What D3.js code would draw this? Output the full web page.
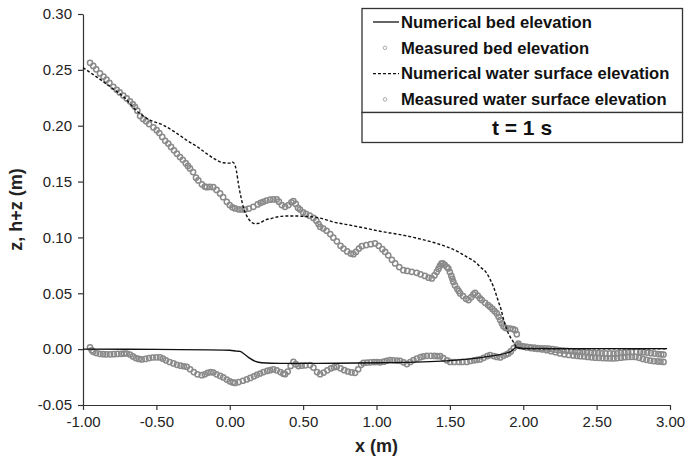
<!DOCTYPE html>
<html>
<head>
<meta charset="utf-8">
<script src="https://cdn.jsdelivr.net/npm/d3@7"></script>
<style>
  body { margin: 0; background: #fff; }
  svg { font-family: "Liberation Sans", Arial, sans-serif; }
  .tick text { font-size: 15px; fill: #222; }
</style>
</head>
<body>
<svg id="chart" width="689" height="465"></svg>
<script>
// x ticks and y ticks (m)
const xTicks = [-1, -0.5, 0, 0.5, 1, 1.5, 2, 2.5, 3];
const yTicks = [-0.05, 0, 0.05, 0.1, 0.15, 0.2, 0.25, 0.3];

// Numerical bed elevation [x, z]
const numBed = [[-1.0,0.0],[-0.5,-0.0002],[0.0,-0.001],[0.048,-0.0018],[0.07,-0.002],[0.1,-0.0045],[0.138,-0.0083],
  [0.175,-0.011],[0.218,-0.0122],[0.343,-0.0128],[0.6,-0.0127],[1.025,-0.0122],[1.478,-0.0105],[1.774,-0.0063],
  [1.911,-0.0024],[1.956,0.0015],[2.0,0.0006],[2.5,0.0005],[2.98,0.0005]];

// Numerical water surface elevation [x, h+z]
const numWater = [[-1.0,0.252],[-0.9,0.243],[-0.8,0.2335],[-0.725,0.226],[-0.623,0.212],[-0.55,0.2055],[-0.453,0.2005],
  [-0.37,0.194],[-0.293,0.187],[-0.22,0.181],[-0.157,0.175],[-0.1,0.170],[-0.044,0.1668],[0.0,0.1665],[0.014,0.1677],
  [0.029,0.1665],[0.045,0.160],[0.059,0.148],[0.075,0.137],[0.093,0.127],[0.115,0.1195],[0.138,0.115],[0.165,0.1125],
  [0.19,0.1125],[0.207,0.113],[0.24,0.1155],[0.286,0.117],[0.33,0.1185],[0.389,0.1192],[0.45,0.1192],[0.51,0.1188],
  [0.57,0.1184],[0.64,0.1165],[0.706,0.1138],[0.798,0.1115],[0.934,0.108],[1.025,0.1055],[1.161,0.1025],[1.252,0.1],
  [1.388,0.0955],[1.479,0.0916],[1.57,0.0862],[1.615,0.0826],[1.684,0.0767],[1.706,0.0737],[1.752,0.0678],[1.774,0.0625],
  [1.797,0.0558],[1.815,0.049],[1.831,0.0425],[1.85,0.035],[1.865,0.027],[1.877,0.022],[1.899,0.014],[1.911,0.011],
  [1.93,0.007],[1.945,0.0036],[1.96,0.001],[2.0,0.0003],[2.5,0.0003],[2.98,0.0003]];

// Measured water surface elevation [x, h+z]
const measWater = [[-0.952,0.2563],[-0.93,0.2535],[-0.91,0.2505],[-0.884,0.2468],[-0.86,0.244],[-0.84,0.2412],[-0.82,0.2383],
  [-0.793,0.2348],[-0.77,0.2322],[-0.75,0.2298],[-0.725,0.227],[-0.702,0.2244],[-0.68,0.2218],[-0.66,0.2192],[-0.646,0.2169],
  [-0.63,0.2135],[-0.611,0.2086],[-0.59,0.206],[-0.57,0.204],[-0.55,0.2015],[-0.52,0.1985],[-0.498,0.196],[-0.48,0.1935],
  [-0.46,0.19],[-0.44,0.1865],[-0.419,0.184],[-0.4,0.181],[-0.38,0.178],[-0.36,0.175],[-0.339,0.172],[-0.32,0.1695],
  [-0.3,0.1665],[-0.285,0.164],[-0.271,0.1618],[-0.25,0.1585],[-0.23,0.1535],[-0.214,0.151],[-0.19,0.1475],[-0.17,0.1455],
  [-0.157,0.145],[-0.135,0.1452],[-0.112,0.145],[-0.09,0.1425],[-0.066,0.1394],[-0.045,0.136],[-0.02,0.1319],[0.0,0.129],
  [0.018,0.127],[0.036,0.126],[0.06,0.1252],[0.08,0.125],[0.104,0.125],[0.13,0.1258],[0.161,0.1274],[0.19,0.1295],
  [0.21,0.131],[0.229,0.1319],[0.25,0.133],[0.275,0.1338],[0.297,0.134],[0.32,0.134],[0.335,0.132],[0.355,0.129],
  [0.377,0.1274],[0.4,0.129],[0.42,0.1315],[0.434,0.1325],[0.45,0.13],[0.465,0.1265],[0.479,0.125],[0.5,0.1225],
  [0.52,0.121],[0.545,0.1195],[0.57,0.1175],[0.59,0.115],[0.605,0.112],[0.616,0.1095],[0.638,0.108],[0.66,0.106],
  [0.685,0.103],[0.706,0.0998],[0.73,0.0965],[0.755,0.0925],[0.775,0.09],[0.8,0.0875],[0.825,0.0855],[0.843,0.085],
  [0.86,0.087],[0.88,0.09],[0.9,0.0922],[0.93,0.0932],[0.96,0.094],[0.99,0.0946],[1.015,0.0925],[1.04,0.0895],
  [1.059,0.087],[1.08,0.084],[1.105,0.08],[1.127,0.0767],[1.155,0.0735],[1.183,0.0707],[1.21,0.07],[1.24,0.0692],
  [1.274,0.0683],[1.3,0.067],[1.33,0.0655],[1.355,0.064],[1.377,0.0633],[1.395,0.066],[1.411,0.0692],[1.422,0.0718],
  [1.432,0.0745],[1.442,0.0765],[1.451,0.0767],[1.465,0.0755],[1.48,0.0735],[1.49,0.0722],[1.5,0.069],[1.51,0.0655],
  [1.517,0.063],[1.524,0.0602],[1.535,0.057],[1.55,0.054],[1.56,0.052],[1.57,0.0499],[1.59,0.0475],[1.61,0.045],
  [1.627,0.0439],[1.645,0.0465],[1.66,0.049],[1.672,0.0504],[1.69,0.048],[1.705,0.0455],[1.718,0.0439],[1.74,0.0415],
  [1.76,0.0395],[1.774,0.0379],[1.79,0.036],[1.805,0.034],[1.82,0.032],[1.832,0.029],[1.843,0.026],[1.855,0.023],
  [1.865,0.0205],[1.88,0.019],[1.895,0.0185],[1.911,0.0185],[1.93,0.018],[1.945,0.017],[1.956,0.0134],[1.967,0.005],
  [1.98,0.003],[2.0,0.0025],[2.025,0.002],[2.05,0.0016],[2.075,0.0013],[2.1,0.001],[2.125,0.0008],[2.15,0.0007],
  [2.175,0.0004],[2.2,0.0],[2.225,-0.0005],[2.25,-0.001],[2.275,-0.0012],[2.3,-0.0015],[2.325,-0.0018],[2.35,-0.002],
  [2.37,-0.0022],[2.388,-0.0024],[2.41,-0.0027],[2.435,-0.003],[2.46,-0.0033],[2.485,-0.0035],[2.51,-0.0036],
  [2.535,-0.0037],[2.56,-0.0038],[2.59,-0.0038],[2.615,-0.0039],[2.64,-0.0037],[2.665,-0.0034],[2.69,-0.0031],
  [2.715,-0.0028],[2.74,-0.0026],[2.77,-0.0025],[2.797,-0.0024],[2.82,-0.0027],[2.845,-0.0031],[2.87,-0.0036],
  [2.895,-0.004],[2.92,-0.0044],[2.94,-0.0046],[2.956,-0.0048]];

// Measured bed elevation [x, z]
const measBed = [[-0.952,0.0015],[-0.94,-0.001],[-0.93,-0.0024],[-0.91,-0.0035],[-0.885,-0.0042],[-0.862,-0.0045],
  [-0.84,-0.0046],[-0.815,-0.0046],[-0.79,-0.0045],[-0.765,-0.0043],[-0.74,-0.0042],[-0.72,-0.004],[-0.702,-0.0039],
  [-0.68,-0.0048],[-0.66,-0.0065],[-0.64,-0.008],[-0.62,-0.0088],[-0.6,-0.0092],[-0.575,-0.0088],[-0.55,-0.008],
  [-0.525,-0.0075],[-0.5,-0.0073],[-0.475,-0.0074],[-0.455,-0.0085],[-0.435,-0.01],[-0.41,-0.0115],[-0.384,-0.0128],
  [-0.36,-0.014],[-0.335,-0.0148],[-0.313,-0.0153],[-0.293,-0.0158],[-0.27,-0.018],[-0.245,-0.0205],[-0.22,-0.0225],
  [-0.191,-0.0233],[-0.17,-0.0225],[-0.15,-0.0212],[-0.13,-0.0205],[-0.111,-0.0209],[-0.09,-0.0225],[-0.065,-0.024],
  [-0.044,-0.0253],[-0.02,-0.0272],[0.0,-0.0288],[0.02,-0.0298],[0.036,-0.0302],[0.06,-0.0295],[0.09,-0.0283],
  [0.116,-0.0271],[0.14,-0.0258],[0.165,-0.0243],[0.185,-0.023],[0.207,-0.0218],[0.23,-0.0205],[0.255,-0.0195],
  [0.275,-0.0188],[0.297,-0.0182],[0.32,-0.019],[0.345,-0.0205],[0.365,-0.022],[0.377,-0.0224],[0.395,-0.02],
  [0.415,-0.015],[0.434,-0.0114],[0.45,-0.0135],[0.468,-0.0152],[0.49,-0.0148],[0.515,-0.0145],[0.547,-0.0143],
  [0.57,-0.0165],[0.595,-0.0205],[0.616,-0.0224],[0.64,-0.021],[0.665,-0.019],[0.69,-0.0172],[0.71,-0.0162],
  [0.729,-0.0158],[0.755,-0.0172],[0.78,-0.0188],[0.805,-0.02],[0.83,-0.0208],[0.854,-0.0212],[0.875,-0.018],
  [0.895,-0.014],[0.911,-0.0123],[0.935,-0.012],[0.96,-0.0118],[0.985,-0.0116],[1.005,-0.0115],[1.025,-0.0118],
  [1.05,-0.0112],[1.07,-0.0104],[1.093,-0.0098],[1.115,-0.01],[1.14,-0.0103],[1.161,-0.0105],[1.185,-0.0118],
  [1.207,-0.0134],[1.23,-0.0115],[1.252,-0.0098],[1.275,-0.0085],[1.3,-0.0072],[1.32,-0.0064],[1.343,-0.006],
  [1.37,-0.006],[1.395,-0.0061],[1.415,-0.0062],[1.434,-0.0063],[1.455,-0.008],[1.48,-0.01],[1.502,-0.0114],
  [1.53,-0.0115],[1.56,-0.0115],[1.585,-0.0114],[1.615,-0.0114],[1.64,-0.0106],[1.665,-0.01],[1.685,-0.0096],
  [1.706,-0.0092],[1.73,-0.0078],[1.755,-0.0062],[1.774,-0.0054],[1.8,-0.0062],[1.82,-0.007],[1.843,-0.0074],
  [1.865,-0.006],[1.885,-0.0048],[1.899,-0.0039],[1.915,-0.002],[1.935,0.001],[1.956,0.0036],[1.975,0.003],
  [2.0,0.0022],[2.025,0.0015],[2.05,0.001],[2.075,0.0005],[2.1,0.0002],[2.13,-0.0003],[2.16,-0.0009],[2.19,-0.0018],
  [2.22,-0.0028],[2.25,-0.0038],[2.28,-0.0046],[2.31,-0.0052],[2.34,-0.0057],[2.365,-0.006],[2.388,-0.0063],
  [2.415,-0.0066],[2.44,-0.007],[2.465,-0.0073],[2.49,-0.0076],[2.515,-0.0078],[2.54,-0.008],[2.565,-0.0081],
  [2.59,-0.0082],[2.615,-0.0083],[2.64,-0.008],[2.665,-0.0076],[2.69,-0.0072],[2.715,-0.007],[2.74,-0.0069],
  [2.765,-0.007],[2.79,-0.0078],[2.815,-0.0088],[2.84,-0.0096],[2.865,-0.0102],[2.89,-0.0107],[2.915,-0.011],
  [2.935,-0.0112],[2.956,-0.0114]];

const legendItems = [
  { label: 'Numerical bed elevation', kind: 'line', dash: null },
  { label: 'Measured bed elevation', kind: 'dot' },
  { label: 'Numerical water surface elevation', kind: 'line', dash: '3,2' },
  { label: 'Measured water surface elevation', kind: 'dot' }
];

const svg = d3.select('#chart');
const x = d3.scaleLinear().domain([-1, 3]).range([83, 670]);
const y = d3.scaleLinear().domain([-0.05, 0.30]).range([405, 14]);
const axisColor = '#333';
const markColor = '#8a8a8a';

// axes
const gx = svg.append('g').attr('transform', `translate(0,${y(-0.05)})`)
  .call(d3.axisBottom(x).tickValues(xTicks).tickSize(5).tickSizeOuter(0).tickFormat(d => d.toFixed(2)));
const gy = svg.append('g').attr('transform', `translate(${x(-1)},0)`)
  .call(d3.axisLeft(y).tickValues(yTicks).tickSize(5).tickSizeOuter(0).tickFormat(d => d.toFixed(2)));
[gx, gy].forEach(g => {
  g.selectAll('path, line').attr('stroke', axisColor).attr('stroke-width', 1.2);
  g.selectAll('text').style('font-size', '15px').attr('fill', '#222');
});
gx.selectAll('text').attr('dy', '0.95em');
gy.selectAll('text').attr('dx', '-0.2em');

svg.append('text').attr('x', (x(-1) + x(3)) / 2).attr('y', 452).attr('text-anchor', 'middle')
  .style('font-size', '18px').style('font-weight', 'bold').attr('fill', '#222').text('x (m)');
svg.append('text').attr('transform', `translate(22,${y(0.125)}) rotate(-90)`).attr('text-anchor', 'middle')
  .style('font-size', '18px').style('font-weight', 'bold').attr('fill', '#222').text('z, h+z (m)');

// measured points
function dots(data) {
  svg.append('g').selectAll('circle').data(data).enter().append('circle')
    .attr('cx', d => x(d[0])).attr('cy', d => y(d[1])).attr('r', 2.6)
    .attr('fill', 'none').attr('stroke', markColor).attr('stroke-width', 1.5);
}
dots(measBed);
dots(measWater);

// numerical lines
const line = d3.line().x(d => x(d[0])).y(d => y(d[1])).curve(d3.curveMonotoneX);
svg.append('path').datum(numBed).attr('d', line).attr('fill', 'none')
  .attr('stroke', '#111').attr('stroke-width', 1.3);
svg.append('path').datum(numWater).attr('d', line).attr('fill', 'none')
  .attr('stroke', '#111').attr('stroke-width', 1.4).attr('stroke-dasharray', '3,2');

// legend
const lg = svg.append('g');
lg.append('rect').attr('x', 362).attr('y', 8.5).attr('width', 320.5).attr('height', 104)
  .attr('fill', '#fff').attr('stroke', axisColor).attr('stroke-width', 1.3);
lg.append('rect').attr('x', 362).attr('y', 112.5).attr('width', 320.5).attr('height', 30)
  .attr('fill', '#fff').attr('stroke', axisColor).attr('stroke-width', 1.3);
legendItems.forEach((it, i) => {
  const cy = 22 + i * 25.8;
  if (it.kind === 'line') {
    lg.append('line').attr('x1', 373).attr('x2', 399).attr('y1', cy).attr('y2', cy)
      .attr('stroke', '#111').attr('stroke-width', 1.3).attr('stroke-dasharray', it.dash);
  } else {
    lg.append('circle').attr('cx', 385).attr('cy', cy).attr('r', 1.8)
      .attr('fill', 'none').attr('stroke', '#aaa').attr('stroke-width', 1);
  }
  lg.append('text').attr('x', 401).attr('y', cy).attr('dy', '0.35em')
    .style('font-size', '16.6px').style('font-weight', 'bold').attr('fill', '#111').text(it.label);
});
lg.append('text').attr('x', 522).attr('y', 128).attr('dy', '0.35em').attr('text-anchor', 'middle')
  .style('font-size', '21px').style('font-weight', 'bold').attr('fill', '#111').text('t = 1 s');
</script>
</body>
</html>
